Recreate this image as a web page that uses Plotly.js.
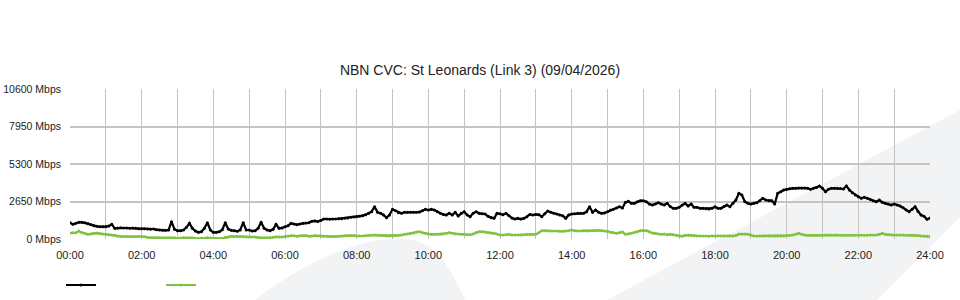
<!DOCTYPE html>
<html>
<head>
<meta charset="utf-8">
<script src="https://cdn.plot.ly/plotly-3.0.1.min.js"></script>
<style>
html, body { margin: 0; padding: 0; background: #ffffff; }
#chart { width: 960px; height: 300px; }
</style>
</head>
<body>
<div id="chart"></div>
<script>
// 5-minute samples, 00:00 .. 24:00 (Mbps)
const blackSeries = [
  1154, 1036, 1107, 1178, 1178, 1154, 1083, 1013, 942, 895, 872, 860,
  872, 920, 1036, 754, 778, 800, 778, 778, 754, 778, 754, 730,
  730, 730, 707, 683, 707, 660, 636, 612, 612, 636, 1225, 683,
  589, 589, 636, 825, 1107, 754, 565, 471, 518, 754, 1154, 636,
  471, 471, 518, 660, 1154, 700, 612, 589, 550, 640, 1154, 640,
  636, 565, 589, 754, 1178, 754, 636, 589, 683, 1036, 760, 780,
  870, 940, 1107, 1060, 1013, 1060, 1107, 1130, 1150, 1260, 1280, 1230,
  1300, 1413, 1413, 1390, 1413, 1413, 1437, 1437, 1460, 1484, 1531, 1560,
  1578, 1600, 1650, 1720, 1814, 1932, 2285, 1885, 1814, 1700, 1508, 1700,
  2097, 2000, 1860, 1814, 1885, 1885, 1885, 1885, 1885, 1900, 2003, 2097,
  2050, 2097, 2050, 1932, 1814, 1740, 1696, 1814, 1696, 1885, 1625, 1814,
  1932, 1696, 1578, 1814, 1932, 1814, 1780, 1767, 1600, 1508, 1460, 1814,
  1790, 1720, 1814, 1650, 1480, 1413, 1460, 1413, 1460, 1578, 1740, 1696,
  1740, 1720, 1578, 1780, 1979, 1885, 1814, 1767, 1696, 1650, 1460, 1696,
  1767, 1790, 1814, 1814, 1814, 1932, 2285, 1885, 2050, 1885, 1814, 1840,
  1932, 2050, 2097, 2191, 2285, 2191, 2590, 2660, 2521, 2521, 2640, 2709,
  2700, 2638, 2473, 2403, 2473, 2568, 2473, 2403, 2521, 2300, 2167, 2167,
  2238, 2403, 2521, 2332, 2473, 2238, 2238, 2167, 2167, 2140, 2120, 2167,
  2285, 2167, 2167, 2300, 2403, 2285, 2521, 2756, 3227, 3109, 2638, 2521,
  2473, 2520, 2568, 2709, 2874, 2756, 2709, 2709, 2473, 3227, 3345, 3463,
  3510, 3557, 3581, 3581, 3604, 3604, 3604, 3581, 3510, 3581, 3640, 3745,
  3581, 3345, 3510, 3581, 3581, 3581, 3560, 3534, 3745, 3463, 3274, 3109,
  2992, 2874, 2945, 2874, 2800, 2709, 2638, 2756, 2600, 2521, 2473, 2403,
  2473, 2400, 2332, 2200, 2050, 1932, 2100, 2285, 1950, 1696, 1600, 1400,
  1480
];
const greenSeries = [
  420, 440, 450, 565, 450, 400, 330, 360, 400, 420, 380, 350,
  330, 300, 280, 260, 200, 180, 170, 170, 170, 170, 170, 200,
  200, 160, 110, 90, 80, 80, 80, 80, 80, 80, 90, 80,
  30, 70, 80, 80, 80, 80, 60, 20, 50, 60, 80, 70,
  60, 30, 20, 40, 100, 150, 190, 180, 180, 170, 180, 150,
  140, 140, 140, 100, 80, 80, 80, 90, 120, 160, 150, 140,
  170, 220, 250, 230, 200, 230, 250, 240, 200, 220, 240, 230,
  220, 200, 190, 180, 170, 180, 200, 210, 230, 240, 240, 240,
  212, 212, 212, 240, 259, 259, 283, 259, 259, 240, 212, 212,
  212, 240, 260, 283, 330, 353, 380, 420, 500, 518, 450, 400,
  353, 330, 330, 340, 340, 353, 400, 448, 400, 353, 353, 340,
  330, 300, 300, 353, 460, 518, 518, 500, 448, 420, 400, 353,
  283, 283, 300, 330, 283, 283, 283, 283, 300, 330, 330, 330,
  330, 450, 589, 589, 565, 565, 565, 565, 541, 541, 565, 589,
  636, 589, 565, 565, 589, 565, 589, 589, 600, 612, 589, 565,
  541, 480, 450, 400, 440, 500, 330, 360, 400, 460, 520, 589,
  600, 589, 520, 420, 400, 353, 330, 353, 300, 330, 300, 259,
  212, 200, 259, 283, 259, 240, 212, 212, 212, 212, 200, 212,
  212, 212, 212, 212, 212, 212, 212, 240, 353, 353, 353, 340,
  283, 212, 212, 212, 212, 212, 212, 212, 212, 212, 212, 212,
  240, 259, 283, 330, 400, 330, 283, 259, 259, 259, 259, 259,
  259, 283, 283, 283, 283, 283, 259, 259, 259, 259, 259, 259,
  259, 259, 259, 259, 283, 283, 283, 330, 400, 330, 300, 283,
  283, 283, 283, 283, 259, 259, 259, 259, 240, 212, 212, 190,
  165
];
const hourTicks = [0,1,2,3,4,5,6,7,8,9,10,11,12,13,14,15,16,17,18,19,20,21,22,23,24];
const hourLabels = ['00:00','','02:00','','04:00','','06:00','','08:00','','10:00','','12:00','','14:00','','16:00','','18:00','','20:00','','22:00','','24:00'];
const yTicks = [0, 2650, 5300, 7950, 10600];
const yLabels = ['0 Mbps', '2650 Mbps', '5300 Mbps', '7950 Mbps', '10600 Mbps'];
const chartTitle = 'NBN CVC: St Leonards (Link 3) (09/04/2026)';

// sample times in hours (5-minute step)
const times = blackSeries.map((_, i) => i * 5 / 60);

const FONT = '"Liberation Sans", Arial, sans-serif';

const traces = [
  {
    x: times, y: blackSeries, name: '', type: 'scatter', mode: 'lines+markers',
    line: { color: '#000000', width: 2.2 },
    marker: { color: '#000000', size: 3 },
    hoverinfo: 'skip'
  },
  {
    x: times, y: greenSeries, name: '', type: 'scatter', mode: 'lines+markers',
    line: { color: '#80c241', width: 2.2 },
    marker: { color: '#80c241', size: 3 },
    hoverinfo: 'skip'
  }
];

const layout = {
  width: 960, height: 300,
  margin: { l: 70, r: 30, t: 89, b: 61, pad: 0, autoexpand: false },
  paper_bgcolor: '#ffffff',
  plot_bgcolor: 'rgba(0,0,0,0)',
  font: { family: FONT, size: 11, color: '#222222' },
  title: {
    text: chartTitle,
    font: { family: FONT, size: 14, color: '#222222' },
    x: 0.5, xref: 'container', xanchor: 'center',
    y: 1 - 70 / 300, yref: 'container', yanchor: 'middle'
  },
  xaxis: {
    range: [0, 24], tickmode: 'array', tickvals: hourTicks, ticktext: hourLabels,
    showgrid: true, gridcolor: '#c4c4c4', gridwidth: 1,
    zeroline: false, showline: false, ticks: '', ticklabelstandoff: 8,
    automargin: false,
    tickfont: { family: FONT, size: 11, color: '#222222' }
  },
  yaxis: {
    range: [0, 10600], tickmode: 'array', tickvals: yTicks, ticktext: yLabels,
    showgrid: true, gridcolor: '#c4c4c4', gridwidth: 2,
    zeroline: false, showline: false, ticks: '', ticklabelstandoff: 8,
    automargin: false,
    tickfont: { family: FONT, size: 10.5, color: '#222222' }
  },
  showlegend: true,
  legend: {
    orientation: 'h', xref: 'container', yref: 'container',
    x: 61 / 960, xanchor: 'left', y: 1 - 285 / 300, yanchor: 'middle',
    entrywidth: 55, entrywidthmode: 'pixels', itemwidth: 30,
    bgcolor: 'rgba(0,0,0,0)', font: { size: 11 }
  },
  shapes: [
    {
      type: 'path', xref: 'paper', yref: 'paper', layer: 'below',
      path: 'M 0.6244 -0.4067 L 1.0349 0.86 L 1.0349 0.1467 L 0.9384 -0.4067 Z',
      fillcolor: '#f2f3f5', line: { width: 0 }
    },
    {
      type: 'path', xref: 'paper', yref: 'paper', layer: 'below',
      path: 'M 0.2151 -0.4067 C 0.2674 -0.1733 0.3372 0.0267 0.3895 -0.0007 C 0.4186 -0.0133 0.4360 -0.1067 0.4593 -0.4067 Z',
      fillcolor: '#f2f3f5', line: { width: 0 }
    }
  ]
};

Plotly.newPlot('chart', traces, layout, { staticPlot: true, displayModeBar: false });
</script>
</body>
</html>
